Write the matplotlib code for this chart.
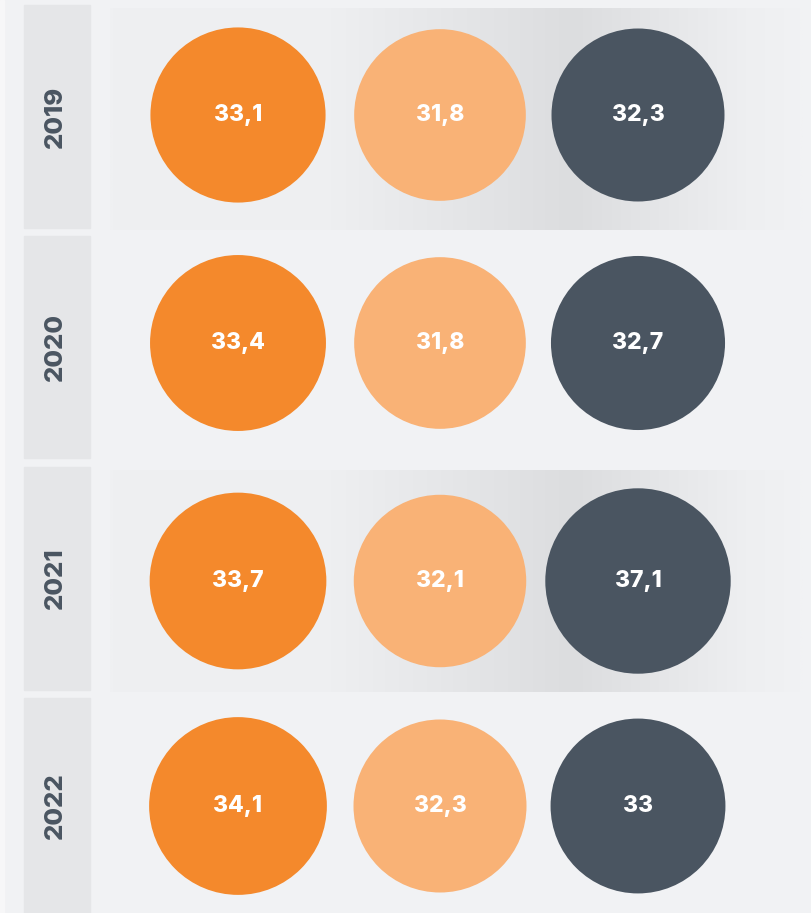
import numpy as np
import matplotlib
matplotlib.use('Agg')
import matplotlib.pyplot as plt
from matplotlib.patches import Rectangle, Circle
from matplotlib.colors import LinearSegmentedColormap

# =====================================================================
# Data
# =====================================================================
years = ['2019', '2020', '2021', '2022']
series_1 = [33.1, 33.4, 33.7, 34.1]
series_2 = [31.8, 31.8, 32.1, 32.3]
series_3 = [32.3, 32.7, 37.1, 33.0]
labels_1 = ['33,1', '33,4', '33,7', '34,1']
labels_2 = ['31,8', '31,8', '32,1', '32,3']
labels_3 = ['32,3', '32,7', '37,1', '33']

# =====================================================================
# Style
# =====================================================================
W, H = 812, 913
bg_color = '#f1f2f4'
box_color = '#e5e6e8'
year_color = '#4a5561'
series_colors = ['#f4892c', '#f9b276', '#4a5561']
x_centers = [238, 440, 638]
row_centers = [115, 343, 581, 806]
row_bounds = [(5, 228), (236, 458), (467, 690), (698, 913)]
radius_scale = 86.5 / np.sqrt(32.3)   # radius grows with sqrt(value): area ~ value
font = 'Inter'

fig = plt.figure(figsize=(W / 100, H / 100), dpi=100)
fig.patch.set_facecolor(bg_color)
ax = fig.add_axes([0, 0, 1, 1])
ax.set_xlim(0, W)
ax.set_ylim(H, 0)
ax.set_aspect('equal')
ax.axis('off')

# thin lighter strip at the far left
ax.add_patch(Rectangle((0, 0), 4, H, color='#f7f7f8', zorder=0))

# gradient band behind alternate rows
grad_cmap = LinearSegmentedColormap.from_list('band', [
    (0.00, '#eff0f2'),
    (0.32, '#eeeff1'),
    (0.67, '#dcdddf'),
    (0.92, '#eeeff1'),
    (1.00, '#f1f2f4'),
])
band = np.linspace(0, 1, 400).reshape(1, -1)
for i, (top, bottom) in enumerate(row_bounds):
    if i % 2 == 0:
        ax.imshow(band, cmap=grad_cmap, aspect='auto',
                  extent=(110, 803, bottom + 2, top + 3), zorder=1)
    ax.add_patch(Rectangle((24, top), 66, bottom - top, color=box_color, zorder=2))
    ax.text(55, (top + bottom) / 2, years[i], rotation=90, ha='center', va='center',
            color=year_color, fontsize=18.5, fontweight=800, family=font, zorder=3)

# circles
all_values = [series_1, series_2, series_3]
all_labels = [labels_1, labels_2, labels_3]
for s, (vals, labs) in enumerate(zip(all_values, all_labels)):
    for i, v in enumerate(vals):
        r = radius_scale * np.sqrt(v)
        ax.add_patch(Circle((x_centers[s], row_centers[i]), r,
                            color=series_colors[s], zorder=4, lw=0))
        ax.text(x_centers[s], row_centers[i], labs[i], ha='center', va='center',
                color='white', fontsize=16.5, fontweight=800, family=font, zorder=5)

fig.savefig('out.png', dpi=100, facecolor=bg_color)
